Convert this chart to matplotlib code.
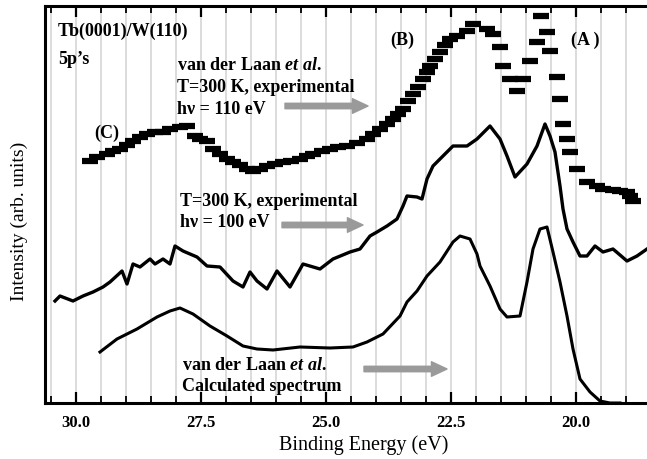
import numpy as np
import matplotlib
matplotlib.use("Agg")
import matplotlib.pyplot as plt
from matplotlib.ticker import MultipleLocator

plt.rcParams['font.family'] = ['Liberation Serif', 'DejaVu Serif']
plt.rcParams['font.weight'] = 'bold'
plt.rcParams['mathtext.fontset'] = 'custom'
plt.rcParams['mathtext.rm'] = 'Liberation Serif:bold'
plt.rcParams['mathtext.it'] = 'Liberation Serif:italic:bold'

# hv = 110 eV, experimental (van der Laan et al.)
e_110 = [29.72, 29.58, 29.38, 29.26, 29.12, 28.98, 28.86, 28.72, 28.58, 28.42,
         28.26, 28.12, 27.92, 27.78, 27.62, 27.52, 27.38, 27.26, 27.12, 26.98,
         26.86, 26.72, 26.58, 26.46, 26.32, 26.18, 26.02, 25.86, 25.70, 25.52,
         25.38, 25.26, 25.08, 24.92, 24.76, 24.58, 24.38, 24.18, 24.06, 23.92,
         23.78, 23.66, 23.56, 23.46, 23.36, 23.26, 23.16, 23.06, 22.98, 22.92,
         22.82, 22.72, 22.62, 22.52, 22.38, 22.18, 22.06, 21.78, 21.66, 21.52,
         21.46, 21.32, 21.18, 21.06, 20.92, 20.78, 20.70, 20.58, 20.52, 20.38,
         20.32, 20.26, 20.18, 20.12, 19.98, 19.78, 19.58, 19.46, 19.26, 19.12,
         18.98, 18.92, 18.86]
i_110 = [242, 246, 249, 252, 254, 258, 262, 266, 269, 271,
         271, 274, 276, 277, 267, 264, 262, 254, 249, 244,
         241, 238, 234, 232, 234, 237, 239, 241, 242, 244,
         247, 249, 252, 254, 256, 257, 260, 264, 269, 274,
         279, 284, 289, 294, 302, 309, 316, 324, 331, 337,
         344, 351, 358, 364, 367, 372, 379, 374, 369, 356,
         337, 324, 312, 324, 342, 361, 387, 371, 352, 326,
         304, 279, 264, 251, 234, 221, 217, 214, 213, 212,
         211, 207, 202]

# hv = 100 eV, experimental
e_100 = [30.42, 30.32, 30.06, 29.86, 29.66, 29.46, 29.32, 29.08, 28.98, 28.86,
         28.72, 28.52, 28.42, 28.26, 28.12, 28.02, 27.86, 27.58, 27.38, 27.12,
         26.86, 26.66, 26.52, 26.38, 26.18, 25.98, 25.72, 25.46, 25.12, 24.86,
         24.52, 24.32, 24.12, 23.98, 23.78, 23.58, 23.46, 23.38, 23.18, 23.08,
         22.98, 22.86, 22.66, 22.46, 22.18, 21.98, 21.72, 21.52, 21.38, 21.22,
         20.98, 20.78, 20.62, 20.52, 20.42, 20.32, 20.26, 20.18, 20.06, 19.92,
         19.78, 19.62, 19.46, 19.26, 18.98, 18.78, 18.58]
i_100 = [102, 107, 102, 107, 111, 116, 121, 132, 119, 139,
         136, 144, 139, 144, 139, 157, 152, 146, 137, 136,
         122, 116, 131, 122, 114, 132, 116, 139, 134, 144,
         151, 154, 167, 171, 177, 184, 197, 207, 206, 204,
         224, 237, 247, 257, 257, 264, 277, 264, 247, 226,
         239, 257, 279, 267, 251, 217, 194, 174, 161, 147,
         147, 157, 151, 154, 142, 147, 154]

# calculated spectrum
e_calc = [29.52, 29.18, 28.78, 28.38, 28.12, 27.92, 27.66, 27.32, 26.98, 26.66,
          26.38, 26.06, 25.52, 24.92, 24.46, 24.18, 23.86, 23.52, 23.38, 23.18,
          22.98, 22.72, 22.46, 22.32, 22.12, 21.98, 21.92, 21.72, 21.52, 21.38,
          21.12, 20.98, 20.86, 20.72, 20.58, 20.46, 20.32, 20.18, 20.06, 19.92,
          19.72, 19.52, 19.32, 19.12]
i_calc = [51, 64, 74, 86, 92, 95, 89, 77, 67, 57,
          54, 53, 56, 55, 56, 61, 69, 87, 101, 112,
          127, 141, 161, 167, 164, 149, 137, 117, 94, 86,
          87, 121, 154, 174, 176, 151, 121, 87, 54, 24,
          11, 2, 0, 0]

major_ticks = [30.0, 27.5, 25.0, 22.5, 20.0]
tick_labels = ['30.0', '27.5', '25.0', '22.5', '20.0']

fig = plt.figure(figsize=(6.47, 4.60), dpi=100)
ax = fig.add_axes([45 / 647, 56 / 460, 602 / 647, 397 / 460])

ax.plot(e_110, i_110, linestyle='none', marker='_', markersize=12,
        markeredgewidth=4.5, color='black')
ax.plot(e_100, i_100, color='black', linewidth=2.4)
ax.plot(e_calc, i_calc, color='black', linewidth=2.2)

ax.set_xlim(30.62, 18.58)
ax.set_ylim(0, 397)

ax.set_xticks(major_ticks)
ax.set_xticklabels(tick_labels, fontsize=12)
ax.xaxis.set_minor_locator(MultipleLocator(0.5))
ax.grid(True, which='both', axis='x', color='#d9d9d9', linewidth=1.3)
ax.set_axisbelow(True)
ax.tick_params(axis='x', which='major', direction='in', length=8, width=1.6,
               top=True, bottom=True, pad=8)
ax.tick_params(axis='x', which='minor', direction='in', length=5, width=1.3,
               top=True, bottom=True)
ax.tick_params(axis='y', left=False, labelleft=False)
ax.spines['right'].set_visible(False)
for s in ['left', 'top', 'bottom']:
    ax.spines[s].set_linewidth(2.2)

ax.set_xlabel('Binding Energy (eV)', fontsize=14.5)
ax.xaxis.set_label_coords(0.53, -0.08)
ax.set_ylabel('Intensity (arb. units)', fontsize=14)
ax.yaxis.set_label_coords(-0.028, 0.46)

fs = 13
ax.text(30.36, 373, 'Tb(0001)/W(110)', fontsize=fs, va='center')
ax.text(30.36, 344, "5p’s", fontsize=fs, va='center')

ax.text(27.98, 338, r'van der Laan $et\ al.$', fontsize=fs, va='center')
ax.text(27.98, 316, 'T=300 K, experimental', fontsize=fs, va='center')
ax.text(27.98, 295, 'hν = 110 eV', fontsize=fs, va='center')

ax.text(27.92, 202, 'T=300 K, experimental', fontsize=fs, va='center')
ax.text(27.92, 181, 'hν = 100 eV', fontsize=fs, va='center')

ax.text(27.88, 38, r'van der Laan $et\ al.$', fontsize=fs, va='center')
ax.text(27.88, 17, 'Calculated spectrum', fontsize=fs, va='center')

ax.text(29.38, 271, '(C)', fontsize=fs, ha='center', va='center')
ax.text(23.48, 364, '(B)', fontsize=fs, ha='center', va='center')
ax.text(19.82, 364, '(A )', fontsize=fs, ha='center', va='center')

arrow = dict(arrowstyle='simple,head_length=0.8,head_width=0.75,tail_width=0.28',
             color='#9a9a9a', mutation_scale=14, shrinkA=0, shrinkB=0)
ax.annotate('', xy=(24.16, 297), xytext=(25.82, 297), arrowprops=arrow)
ax.annotate('', xy=(24.26, 178), xytext=(25.88, 178), arrowprops=arrow)
ax.annotate('', xy=(22.58, 34), xytext=(24.24, 34), arrowprops=arrow)

fig.savefig('out.png', dpi=100)
